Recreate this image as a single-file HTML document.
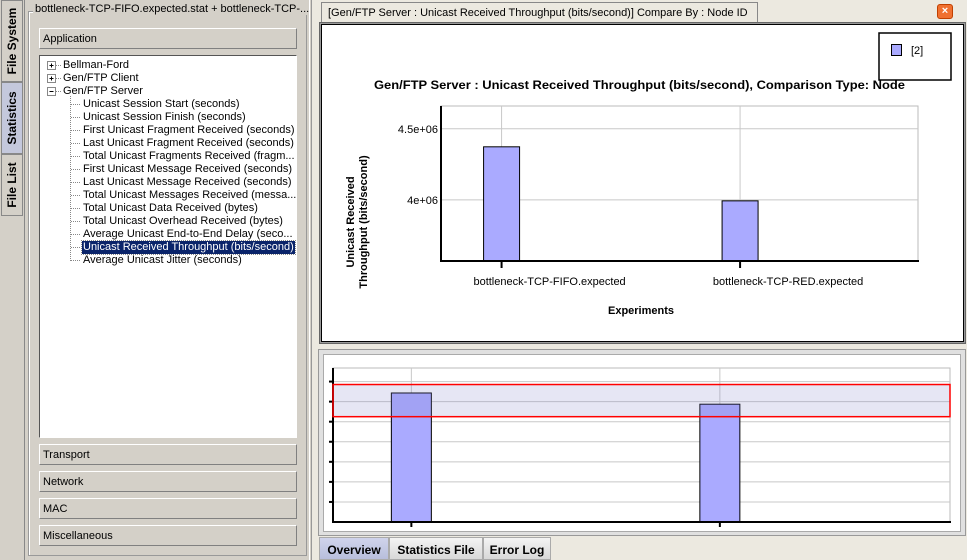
<!DOCTYPE html>
<html><head><meta charset="utf-8"><style>
*{box-sizing:border-box;margin:0;padding:0}
html,body{width:967px;height:560px;overflow:hidden}
body{background:#d4d0c8;font-family:"Liberation Sans",sans-serif;font-size:11px;color:#000;position:relative}
.a{position:absolute}
.vt{position:absolute;left:1px;width:22px;border:1px solid #888;background:#d4d0c8;font-weight:bold;font-size:12px}
.vt span{position:absolute;left:50%;top:50%;transform:translate(-50%,-50%) rotate(-90deg);white-space:nowrap}
.btn{position:absolute;left:39px;width:258px;height:21px;background:#d4d0c8;border:1px solid;border-color:#fff #808080 #808080 #fff;padding:4px 3px 0;font-size:11px}
.ti{position:absolute;white-space:nowrap;line-height:13px;height:13px}
.tab{position:absolute;top:537px;height:23px;font-weight:bold;font-size:12px;padding:5px 0 0;text-align:center;white-space:nowrap;overflow:hidden;border:1px solid #aaa;background:linear-gradient(#f4f4f4,#d8d8d8)}
</style></head><body>
<div class="vt" style="top:0;height:82px"><span>File System</span></div>
<div class="vt" style="top:82px;height:72px;background:#c4c8dc"><span>Statistics</span></div>
<div class="vt" style="top:154px;height:62px"><span>File List</span></div>
<div class="a" style="left:24px;top:0;width:1px;height:560px;background:#888"></div>
<div class="a" style="left:28px;top:11px;width:279px;height:545px;border:1px solid #999;box-shadow:inset 1px 1px #fff"></div>
<div class="a" style="left:33px;top:3px;background:#d4d0c8;padding:0 2px;white-space:nowrap">bottleneck-TCP-FIFO.expected.stat + bottleneck-TCP-...</div>
<div class="a" style="left:309px;top:0;width:1px;height:560px;background:#fff"></div>
<div class="a" style="left:311px;top:0;width:1px;height:560px;background:#999"></div>
<div class="btn" style="top:28px">Application</div>
<div class="a" style="left:39px;top:55px;width:258px;height:383px;background:#fff;border:1px solid;border-color:#555 #fff #fff #555">
<svg class="a" style="left:0;top:2px" width="256" height="379">
<g stroke="#888" fill="#fff"><rect x="7.5" y="3.5" width="8" height="8"/><rect x="7.5" y="16.5" width="8" height="8"/><rect x="7.5" y="29.5" width="8" height="8"/></g>
<g stroke="#000"><path d="M9.5 7.5h4M11.5 5.5v4M9.5 20.5h4M11.5 18.5v4M9.5 33.5h4"/></g>
<g stroke="#888" stroke-dasharray="1,1"><path d="M16 7.5h6M16 20.5h6M16 33.5h6M30.5 38v165"/>
<path d="M31 46.5h9M31 59.5h9M31 72.5h9M31 85.5h9M31 98.5h9M31 111.5h9M31 124.5h9M31 137.5h9M31 150.5h9M31 163.5h9M31 176.5h9M31 189.5h9M31 202.5h9"/></g>
</svg>
<div class="ti" style="left:23px;top:3px">Bellman-Ford</div>
<div class="ti" style="left:23px;top:16px">Gen/FTP Client</div>
<div class="ti" style="left:23px;top:29px">Gen/FTP Server</div>
<div class="ti" style="left:43px;top:42px">Unicast Session Start (seconds)</div>
<div class="ti" style="left:43px;top:55px">Unicast Session Finish (seconds)</div>
<div class="ti" style="left:43px;top:68px">First Unicast Fragment Received (seconds)</div>
<div class="ti" style="left:43px;top:81px">Last Unicast Fragment Received (seconds)</div>
<div class="ti" style="left:43px;top:94px">Total Unicast Fragments Received (fragm...</div>
<div class="ti" style="left:43px;top:107px">First Unicast Message Received (seconds)</div>
<div class="ti" style="left:43px;top:120px">Last Unicast Message Received (seconds)</div>
<div class="ti" style="left:43px;top:133px">Total Unicast Messages Received (messa...</div>
<div class="ti" style="left:43px;top:146px">Total Unicast Data Received (bytes)</div>
<div class="ti" style="left:43px;top:159px">Total Unicast Overhead Received (bytes)</div>
<div class="ti" style="left:43px;top:172px">Average Unicast End-to-End Delay (seco...</div>
<div class="ti" style="left:42px;top:185px;background:#0a246a;color:#fff;padding:0 1px;outline:1px dotted #888">Unicast Received Throughput (bits/second)</div>
<div class="ti" style="left:43px;top:198px">Average Unicast Jitter (seconds)</div>
</div>
<div class="btn" style="top:444px">Transport</div>
<div class="btn" style="top:471px">Network</div>
<div class="btn" style="top:498px">MAC</div>
<div class="btn" style="top:525px">Miscellaneous</div>

<div class="a" style="left:312px;top:0;width:655px;height:560px;background:#ece9e0"></div>
<div class="a" style="left:321px;top:2px;width:437px;height:21px;border:1px solid #888;border-bottom:none;background:#ece9e0;padding:4px 6px;white-space:nowrap">[Gen/FTP Server :  Unicast Received Throughput (bits/second)] Compare By : Node ID</div>
<div class="a" style="left:937px;top:4px;width:16px;height:15px;background:#f07030;border:1px solid #c04000;border-radius:3px;color:#fff;font-size:11px;font-weight:bold;text-align:center;line-height:13px">×</div>
<div class="a" style="left:319px;top:22px;width:647px;height:322px;border:1px solid #666;box-shadow:inset 0 0 0 1px #999;background:#fff"></div>
<div class="a" style="left:321px;top:24px;width:643px;height:318px;border:1px solid #000"></div>
<div class="a" style="left:318px;top:349px;width:648px;height:187px;border:1px solid #999;background:#e0e0e0"></div>
<div class="a" style="left:323px;top:354px;width:638px;height:178px;border:1px solid #aaa;background:#fff"></div>

<svg id="chart" class="a" style="left:0;top:0" width="967" height="560"></svg>

<div class="tab" style="left:319px;width:70px;background:linear-gradient(#d0d4ec,#b8bedc)">Overview</div>
<div class="tab" style="left:389px;width:94px">Statistics File</div>
<div class="tab" style="left:483px;width:68px">Error Log</div>

<script>
const categories=["bottleneck-TCP-FIFO.expected","bottleneck-TCP-RED.expected"];
const values=[4373000,3993000];
const yTicks=[4000000,4500000];
const yTickLabels=["4e+06","4.5e+06"];
const ovTicks=[680000,1360000,2040000,2720000,3400000,4080000,4760000];
const NS="http://www.w3.org/2000/svg";
const svg=document.getElementById('chart');
function mk(t,a,p){const e=document.createElementNS(NS,t);for(const k in a)e.setAttribute(k,a[k]);(p||svg).appendChild(e);return e;}
const L=441,R=918,T=106,B=261,ymin=3570000,ymax=4660000;
const y=v=>B-(v-ymin)/(ymax-ymin)*(B-T);
const x=i=>L+(R-L)*(0.127+i*0.5);
const g=mk('g',{});


mk('rect',{x:L,y:T,width:R-L,height:B-T,fill:'#fff',stroke:'#bbb'},g);
yTicks.forEach((v,i)=>{
 const gl=mk('line',{x1:L,x2:R,y1:y(v),y2:y(v),stroke:'#c8c8c8'},g);
 
 const t=mk('text',{x:L-3,y:y(v)+4,'text-anchor':'end','font-size':'11','font-family':'Liberation Sans, sans-serif'},g);
 t.textContent=yTickLabels[i];
 
});
categories.forEach((c,i)=>{
 mk('line',{x1:x(i),x2:x(i),y1:T,y2:B,stroke:'#c8c8c8'},g);
 const bw=36;
 const b=mk('rect',{x:x(i)-bw/2,y:y(values[i]),width:bw,height:B-y(values[i]),fill:'#aaaaff',stroke:'#000'},g);
 
 
 mk('line',{x1:x(i),x2:x(i),y1:B,y2:B+7,stroke:'#000','stroke-width':2},g);
 const t=mk('text',{x:x(i)+48,y:285,'text-anchor':'middle','font-size':'11','font-family':'Liberation Sans, sans-serif'},g);
 t.textContent=c;
 
});
mk('path',{d:`M${L} ${T}V${B}H${R+1}`,stroke:'#000','stroke-width':2,fill:'none'},g);
const tt=mk('text',{x:374,y:89,'font-size':'12','font-weight':'bold','font-family':'Liberation Sans, sans-serif',textLength:531,lengthAdjust:'spacingAndGlyphs'},g);
tt.textContent="Gen/FTP Server :  Unicast Received Throughput (bits/second), Comparison Type: Node";

const xt=mk('text',{x:641,y:314,'text-anchor':'middle','font-size':'11','font-weight':'bold','font-family':'Liberation Sans, sans-serif'},g);
xt.textContent="Experiments";

const ya=mk('text',{transform:'translate(355,222) rotate(-90)','text-anchor':'middle','font-size':'11','font-weight':'bold','font-family':'Liberation Sans, sans-serif'},g);

const s1=mk('tspan',{x:0,dy:-1},ya);s1.textContent="Unicast Received";
const s2=mk('tspan',{x:0,dy:13},ya);s2.textContent="Throughput (bits/second)";
const lg=mk('g',{});


mk('rect',{x:879,y:33,width:72,height:47,fill:'#fff',stroke:'#000','stroke-width':1.5},lg);
mk('rect',{x:891.5,y:44.5,width:10,height:11,fill:'#aaaaff',stroke:'#000'},lg);
const lt=mk('text',{x:911,y:54,'font-size':'11','font-family':'Liberation Sans, sans-serif'},lg);
lt.textContent="[2]";
const oL=333,oR=950,oT=368,oB=522,oMax=5220000;
const oy=v=>oB-v/oMax*(oB-oT);
const ox=i=>oL+(oR-oL)*(0.127+i*0.5);
const og=mk('g',{});


mk('rect',{x:oL,y:oT,width:oR-oL,height:oB-oT,fill:'#fff',stroke:'#bbb'},og);
ovTicks.forEach(v=>{
 mk('line',{x1:oL,x2:oR,y1:oy(v),y2:oy(v),stroke:'#c8c8c8'},og);
 mk('line',{x1:oL-4,x2:oL,y1:oy(v),y2:oy(v),stroke:'#000','stroke-width':2},og);
});
categories.forEach((c,i)=>{
 mk('line',{x1:ox(i),x2:ox(i),y1:oT,y2:oB,stroke:'#c8c8c8'},og);
 const b=mk('rect',{x:ox(i)-20,y:oy(values[i]),width:40,height:oB-oy(values[i]),fill:'#aaaaff',stroke:'#000'},og);
 
 mk('line',{x1:ox(i),x2:ox(i),y1:oB,y2:oB+5,stroke:'#000','stroke-width':2},og);
});
mk('path',{d:`M${oL} ${oT}V${oB}H${oR+1}`,stroke:'#000','stroke-width':2,fill:'none'},og);
const sel=mk('rect',{x:oL,y:oy(ymax),width:oR-oL,height:oy(ymin)-oy(ymax),fill:'rgba(130,130,200,0.2)',stroke:'#f00','stroke-width':1.5},og);


</script>
</body></html>
